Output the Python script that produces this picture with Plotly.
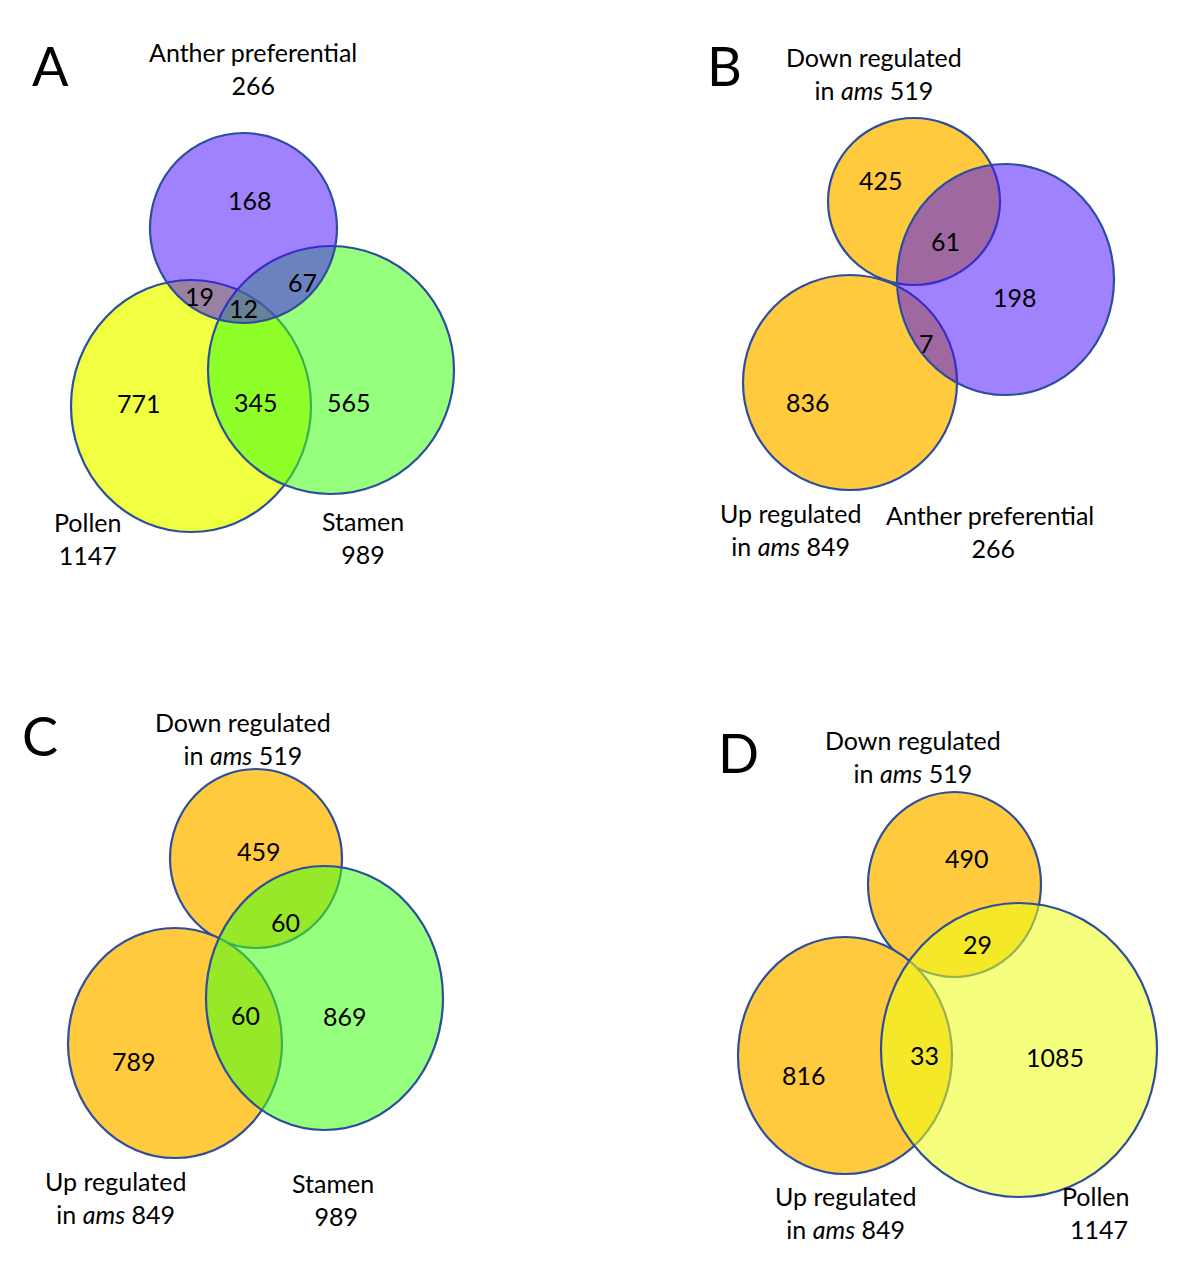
import plotly.graph_objects as go

# ---------------- data ----------------
panel_letters = ["A", "B", "C", "D"]

# Panel A
a_set_names = ["Anther preferential", "Pollen", "Stamen"]
a_set_totals = [266, 1147, 989]
a_region_counts = [168, 19, 12, 67, 771, 345, 565]

# Panel B
b_set_names = ["Down regulated<br>in <i>ams</i>", "Up regulated<br>in <i>ams</i>", "Anther preferential<br>"]
b_set_totals = [519, 849, 266]
b_region_counts = [425, 61, 198, 7, 836]

# Panel C
c_set_names = ["Down regulated<br>in <i>ams</i>", "Up regulated<br>in <i>ams</i>", "Stamen<br>"]
c_set_totals = [519, 849, 989]
c_region_counts = [459, 60, 60, 869, 789]

# Panel D
d_set_names = ["Down regulated<br>in <i>ams</i>", "Up regulated<br>in <i>ams</i>", "Pollen<br>"]
d_set_totals = [519, 849, 1147]
d_region_counts = [490, 29, 33, 1085, 816]

# ---------------- layout (pixel space) ----------------
LINE = "#2D4E9E"
ORANGE = "rgb(255,202,62)"
PURPLE = "rgba(69,10,255,0.51)"
GREEN_T = "rgba(68,255,23,0.56)"
YELLOW = "rgb(240,255,64)"
YELLOW_T = "rgba(237,255,23,0.56)"

# ellipses: (x0, x1, y0, y1, fill) drawn in order
ellipses = [
    # A
    (71, 311, 280, 532, YELLOW),
    (208, 454, 246, 494, GREEN_T),
    (150, 337, 133, 323, PURPLE),
    # B
    (828, 1000, 118, 285, ORANGE),
    (743, 957, 275, 490, ORANGE),
    (897, 1114, 164, 395, PURPLE),
    # C
    (170, 342, 769, 948, ORANGE),
    (68, 282, 928, 1158, ORANGE),
    (206, 443, 866, 1130, GREEN_T),
    # D
    (868, 1041, 792, 977, ORANGE),
    (738, 952, 937, 1174, ORANGE),
    (881, 1157, 903, 1197, YELLOW_T),
]

letter_pos = [(50, 65), (724, 65), (40, 735), (738, 752)]

a_region_pos = [(250, 200), (199, 296), (243, 308), (302, 282), (139, 403), (256, 402), (349, 402)]
b_region_pos = [(881, 180), (945, 241), (1015, 297), (926, 343), (808, 402)]
c_region_pos = [(259, 851), (285, 922), (245, 1015), (345, 1016), (134, 1061)]
d_region_pos = [(967, 858), (977, 944), (924, 1055), (1055, 1057), (804, 1075)]

a_name_pos = [(253, 52), (87, 522), (363, 521)]
b_name_pos = [(874, 57), (790, 513), (990, 515)]
c_name_pos = [(243, 722), (115, 1181), (333, 1183)]
d_name_pos = [(913, 740), (845, 1196), (1095, 1196)]

FONT = "Lato"
SIZE = 25

fig = go.Figure()
fig.add_trace(go.Scatter(x=[0, 1200], y=[0, 1262], mode="markers",
                         marker=dict(opacity=0), hoverinfo="skip", showlegend=False))

for (x0, x1, y0, y1, fc) in ellipses:
    fig.add_shape(type="circle", xref="x", yref="y", x0=x0, x1=x1, y0=y0, y1=y1,
                  fillcolor=fc, line=dict(color=LINE, width=2.2), layer="above")

annotations = []
for letter, (x, y) in zip(panel_letters, letter_pos):
    annotations.append(dict(x=x, y=y, text=letter, showarrow=False,
                            font=dict(family=FONT, size=54, color="black"),
                            xanchor="center", yanchor="middle"))

def add_regions(counts, positions):
    for c, (x, y) in zip(counts, positions):
        annotations.append(dict(x=x, y=y, text=str(c), showarrow=False,
                                font=dict(family=FONT, size=SIZE, color="black"),
                                xanchor="center", yanchor="middle"))

def add_names(names, totals, positions, sep):
    for n, t, (x, y) in zip(names, totals, positions):
        txt = n + sep + str(t)
        annotations.append(dict(x=x, y=y, text=txt, showarrow=False,
                                font=dict(family=FONT, size=SIZE, color="black"),
                                xanchor="center", yanchor="top", align="center",
                                yshift=17))

add_regions(a_region_counts, a_region_pos)
add_regions(b_region_counts, b_region_pos)
add_regions(c_region_counts, c_region_pos)
add_regions(d_region_counts, d_region_pos)

add_names([n + "<br>" for n in a_set_names], a_set_totals, a_name_pos, "")
add_names(b_set_names, b_set_totals, b_name_pos, " ")
add_names(c_set_names, c_set_totals, c_name_pos, " ")
add_names(d_set_names, d_set_totals, d_name_pos, " ")

fig.update_layout(
    width=1200, height=1262,
    margin=dict(l=0, r=0, t=0, b=0),
    paper_bgcolor="white", plot_bgcolor="white",
    xaxis=dict(range=[0, 1200], visible=False, showgrid=False, zeroline=False, fixedrange=True),
    yaxis=dict(range=[1262, 0], visible=False, showgrid=False, zeroline=False, fixedrange=True),
    annotations=annotations,
    showlegend=False,
)

fig.write_html("out.html", config={"displayModeBar": False},
               post_script="document.body.style.margin='0';document.body.style.overflow='hidden';")
